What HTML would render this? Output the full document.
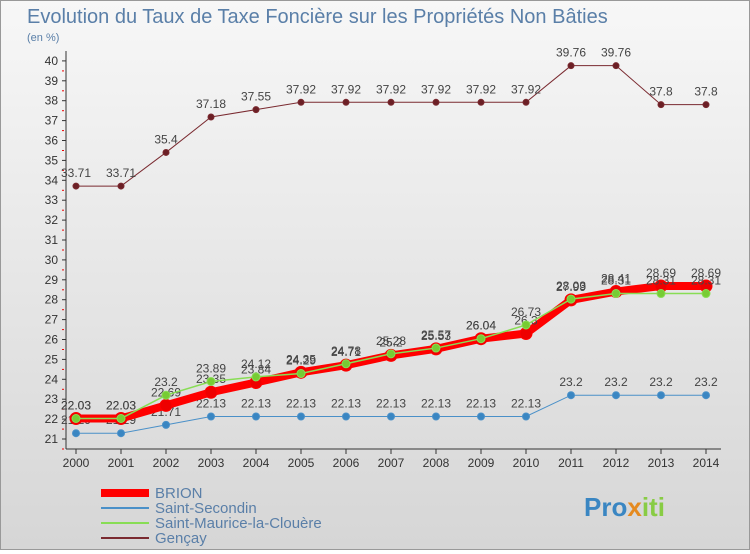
<!DOCTYPE html>
<html><head><meta charset="utf-8"><style>
body{margin:0;width:750px;height:550px;overflow:hidden;font-family:"Liberation Sans","DejaVu Sans",sans-serif}
#wrap{position:relative;width:748px;height:548px;border:1px solid #999;background:linear-gradient(#f7f7f7,#d6d6d6)}
</style></head><body>
<div id="wrap">
<svg id="svg" width="748" height="548"></svg>
</div>
<script>
const years=[2000,2001,2002,2003,2004,2005,2006,2007,2008,2009,2010,2011,2012,2013,2014];
const brion=[22.03,22.03,22.69,23.35,23.84,24.35,24.71,25.2,25.53,26.04,26.3,27.99,28.41,28.69,28.69];
const secondin=[21.29,21.29,21.71,22.13,22.13,22.13,22.13,22.13,22.13,22.13,22.13,23.2,23.2,23.2,23.2];
const maurice=[22.03,22.03,23.2,23.89,24.12,24.29,24.78,25.28,25.57,26.04,26.73,28.03,28.31,28.31,28.31];
const gencay=[33.71,33.71,35.4,37.18,37.55,37.92,37.92,37.92,37.92,37.92,37.92,39.76,39.76,37.8,37.8];
const yTicks=[21,22,23,24,25,26,27,28,29,30,31,32,33,34,35,36,37,38,39,40];
const NS="http://www.w3.org/2000/svg",svg=document.getElementById('svg');
const x=i=>75+i*45, y=v=>438-(v-21)*19.9;
function el(t,a,p){const e=document.createElementNS(NS,t);for(const k in a)e.setAttribute(k,a[k]);(p||svg).appendChild(e);return e;}
function txt(s,a){const e=el('text',a);e.textContent=s;return e;}
let t=txt('Evolution du Taux de Taxe Foncière sur les Propriétés Non Bâties',{x:26,y:22,'font-size':20,fill:'#5a7fa8'});

t=txt('(en %)',{x:26,y:40,'font-size':11,fill:'#5a7fa8'});

let a=el('line',{x1:65,y1:50,x2:65,y2:448,stroke:'#333'});

a=el('line',{x1:65,y1:448,x2:720,y2:448,stroke:'#333'});

yTicks.forEach(v=>{
 const l=el('line',{x1:61,y1:y(v),x2:65,y2:y(v),stroke:'#333'});
 
 const r=el('line',{x1:61,y1:y(v)+10,x2:63,y2:y(v)+10,stroke:'#e00'});
 
 const s=txt(v,{x:57,y:y(v)+4,'font-size':12,'text-anchor':'end',fill:'#333'});
 
});
years.forEach((yr,i)=>{
 const l=el('line',{x1:x(i),y1:448,x2:x(i),y2:453,stroke:'#333'});
 
 const s=txt(yr,{x:x(i),y:466,'font-size':12,'text-anchor':'middle',fill:'#333'});
 
});
function series(d,color,w,r,fill,name){
 const g=el('g',{});
 
 const p=el('polyline',{points:d.map((v,i)=>x(i)+','+y(v)).join(' '),fill:'none',stroke:color,'stroke-width':w},g);
 
 d.forEach((v,i)=>{
  const c=el('circle',{cx:x(i),cy:y(v),r:r,fill:fill,stroke:color,'stroke-width':1},g);
  
  const s=txt(v,{x:x(i),y:y(v)-9,'font-size':12,'text-anchor':'middle',fill:'#444'});
  
 });
}
series(gencay,'#7a2a30',1,3,'#6b1f25','gencay');
series(secondin,'#4a90c8',1,3.5,'#3a86c2','saint-secondin');
series(brion,'#ff0000',8,6,'#ee0000','brion');
series(maurice,'#88dd55',1.5,4,'#77cc33','saint-maurice');
const legend=[['BRION','#ff0000',8],['Saint-Secondin','#4a90c8',2],['Saint-Maurice-la-Clouère','#88dd55',2],['Gençay','#7a2a30',2]];
legend.forEach((L,i)=>{
 const g=el('g',{});
 const ly=492+i*15;
 el('line',{x1:100,y1:ly,x2:148,y2:ly,stroke:L[1],'stroke-width':L[2]},g);
 const s=el('text',{x:154,y:ly+5,'font-size':15,fill:'#5a7fa8'},g);s.textContent=L[0];
});
const b=el('text',{x:583,y:515,'font-size':26,'font-weight':'bold'});

[['Pro','#3a86c2'],['x','#e58a1f'],['iti','#88cc44']].forEach(p=>{const s=el('tspan',{fill:p[1]},b);s.textContent=p[0];});
</script>
</body></html>
